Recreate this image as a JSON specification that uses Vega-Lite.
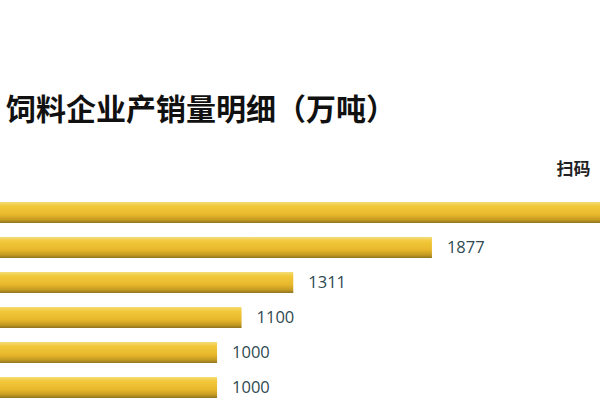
{
  "$schema": "https://vega.github.io/schema/vega-lite/v6.json",
  "width": 600,
  "height": 210,
  "autosize": {"type": "none"},
  "padding": {"top": 195, "left": 0, "right": 0, "bottom": 0},
  "background": "#ffffff",
  "title": {
    "text": "饲料企业产销量明细（万吨）",
    "anchor": "start",
    "frame": "group",
    "orient": "top",
    "offset": 34,
    "dx": 6,
    "font": "Noto Sans CJK SC",
    "fontSize": 30,
    "fontWeight": "bold",
    "color": "#111111"
  },
  "data": {
    "values": [
      {"rank": 1, "value": 2700},
      {"rank": 2, "value": 1877},
      {"rank": 3, "value": 1311},
      {"rank": 4, "value": 1100},
      {"rank": 5, "value": 1000},
      {"rank": 6, "value": 1000}
    ]
  },
  "config": {"view": {"stroke": null}},
  "encoding": {
    "y": {
      "field": "rank",
      "type": "ordinal",
      "sort": "ascending",
      "scale": {"paddingInner": 0.4, "paddingOuter": 0.2},
      "axis": null
    },
    "x": {
      "field": "value",
      "type": "quantitative",
      "scale": {"domain": [114, 2563], "zero": false, "nice": false},
      "axis": {
        "orient": "top",
        "labels": false,
        "ticks": false,
        "domain": false,
        "grid": false,
        "title": "扫码",
        "titleX": 556,
        "titleY": -21,
        "titleAlign": "left",
        "titleBaseline": "alphabetic",
        "titleFont": "Noto Sans CJK SC",
        "titleFontSize": 17,
        "titleFontWeight": "bold",
        "titleColor": "#222222"
      }
    }
  },
  "layer": [
    {
      "mark": {
        "type": "bar",
        "clip": true,
        "fill": {
          "gradient": "linear",
          "x1": 0, "y1": 0, "x2": 0, "y2": 1,
          "stops": [
            {"offset": 0, "color": "#f3dc78"},
            {"offset": 0.2, "color": "#f2c83a"},
            {"offset": 0.6, "color": "#e8b82c"},
            {"offset": 0.85, "color": "#c49a22"},
            {"offset": 1, "color": "#8f7420"}
          ]
        }
      }
    },
    {
      "transform": [{"filter": "datum.value < 2500"}],
      "mark": {
        "type": "text",
        "align": "left",
        "baseline": "middle",
        "dx": 15,
        "font": "Open Sans",
        "fontSize": 16.5,
        "color": "#2f4a52"
      },
      "encoding": {"text": {"field": "value", "type": "quantitative", "format": "d"}}
    }
  ]
}
